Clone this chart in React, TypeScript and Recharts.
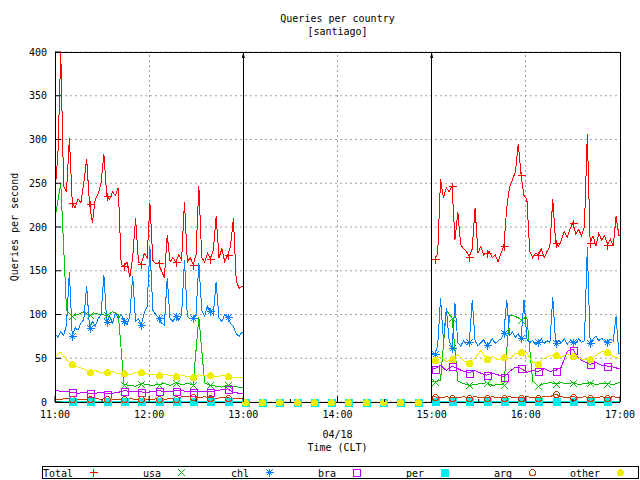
import React from "react";
import { LineChart, Line, XAxis, YAxis, CartesianGrid, ReferenceLine } from "recharts";

// x = minutes after 11:00 (CLT). Collector was down 13:00-15:00.
// Total and chl are read at twice the resolution of the other series.
const COARSE_STEP = 11 / 3; // a marker every 3rd sample
const FINE_STEP = 11 / 6; // a marker every 6th sample
const OUTAGE_START = 120;
const OUTAGE_END = 240;
const SECOND_RUN_START = 242; // first sample after the outage
const END = 360;

const hourLabels = ["11:00", "12:00", "13:00", "14:00", "15:00", "16:00", "17:00"];
const halfHourTicks = [0, 30, 60, 90, 120, 150, 180, 210, 240, 270, 300, 330, 360];
const yTicks = [0, 50, 100, 150, 200, 250, 300, 350, 400];
const gridMinutes = [60, 120, 180, 240, 300];
const outageEdges = [OUTAGE_START, OUTAGE_END];

// 11:00 - 13:00
const totalA = [240, 282, 400, 247, 240, 302, 228, 222, 232, 228, 250, 278, 226, 205, 232, 238, 250, 283, 235, 232, 240, 236, 245, 157, 155, 160, 143, 165, 210, 160, 158, 170, 165, 227, 162, 158, 159, 150, 142, 191, 160, 165, 160, 168, 162, 229, 160, 165, 157, 168, 247, 165, 160, 170, 164, 173, 212, 165, 175, 160, 168, 178, 210, 138, 130, 132];
const chlA = [78, 74, 80, 76, 88, 149, 75, 85, 82, 90, 94, 133, 85, 92, 87, 95, 100, 145, 91, 98, 90, 102, 95, 100, 93, 88, 98, 144, 92, 95, 88, 102, 109, 177, 105, 100, 96, 90, 88, 142, 95, 92, 98, 93, 100, 162, 98, 95, 96, 100, 159, 105, 98, 110, 104, 100, 137, 96, 92, 100, 97, 90, 86, 78, 75, 80];
const usaA = [210, 250, 105, 98, 100, 103, 99, 101, 100, 99, 103, 100, 20, 19, 18, 21, 20, 19, 20, 21, 19, 22, 20, 21, 20, 97, 22, 19, 18, 17, 19, 18, 17];
const braA = [14, 12, 12, 11, 10, 11, 10, 10, 11, 9.5, 10, 11, 13, 12, 12, 11.5, 11, 12, 13, 12, 12, 13, 13, 12, 11.5, 12, 12, 12, 13, 14, 15, 11, 10];
const perA = [1, 1, 1, 1, 1, 1, 1, 1, 1, 1, 1, 1, 1, 1, 1, 1, 1, 1, 1, 1, 1, 1, 1, 1, 1, 1, 1, 1, 1, 1, 1, 1, 1];
const argA = [3, 3, 4, 3, 3, 3, 3, 4, 3, 4, 3, 3, 3, 4, 3, 4, 3, 3, 4, 3, 4, 3, 6, 6, 6, 5, 6, 5, 4, 5, 5, 4, 4];
const otherA = [52, 57, 48, 43, 40, 38, 34, 36, 33, 34, 35, 32, 33, 31, 34, 34, 32, 31, 31, 32, 30, 30, 31, 29, 29, 31, 30, 31, 29, 30, 30, 28, 28];

// 15:00 - 17:00
const totalB = [163, 170, 255, 233, 245, 240, 247, 185, 217, 180, 175, 172, 166, 175, 222, 170, 178, 168, 170, 172, 165, 168, 160, 170, 178, 222, 246, 254, 263, 295, 259, 236, 232, 172, 165, 170, 168, 175, 165, 172, 178, 232, 182, 178, 185, 195, 188, 198, 205, 192, 197, 190, 200, 306, 182, 190, 178, 193, 185, 190, 180, 186, 178, 212, 190];
const chlB = [55, 64, 119, 70, 107, 70, 62, 113, 68, 64, 70, 66, 68, 117, 70, 64, 68, 71, 65, 68, 72, 67, 70, 72, 79, 117, 76, 80, 74, 78, 73, 117, 72, 68, 70, 66, 69, 72, 67, 70, 68, 120, 67, 70, 68, 72, 66, 70, 69, 67, 72, 68, 70, 177, 67, 72, 75, 70, 73, 69, 68, 72, 70, 98, 55];
const usaB = [23, 25, 105, 96, 24, 21, 19, 20, 21, 22, 19, 20, 20, 99, 98, 94, 97, 24, 18, 21, 22, 21, 22, 21, 22, 20, 21, 22, 20, 21, 21, 20, 22];
const braB = [38, 42, 36, 41, 38, 35, 33.5, 36, 33, 30.5, 33, 31, 29, 35, 40, 38.5, 34, 36, 35, 38, 35, 36, 40, 58, 60, 50, 46, 43, 45, 42, 41, 40, 38];
const perB = [1, 1, 1, 1, 1, 1, 1, 1, 1, 1, 1, 1, 1, 1, 1, 1, 1, 1, 1, 1, 1, 1, 1, 1, 1, 1, 1, 1, 1, 1, 1, 1, 1];
const argB = [6, 5, 6, 5, 5, 6, 5, 6, 5, 5, 6, 5, 5, 6, 5, 5, 6, 5, 5, 6, 6, 9, 6, 5, 6, 5, 6, 5, 5, 6, 5, 6, 5];
const otherB = [48, 52, 46, 49.5, 54, 47, 45, 50, 59, 49, 52, 48, 52, 50, 55, 57, 56, 45, 44, 50, 53, 54, 51, 55, 53, 50, 48, 49.5, 53, 58, 57.5, 52, 50];

type Shape = "plus" | "cross" | "star" | "box" | "boxFilled" | "circle" | "circleFilled";
type Series = { key: string; name: string; color: string; shape: Shape; a: number[]; b: number[]; step: number; every: number };

const series: Series[] = [
  { key: "total", name: "Total", color: "#ff0000", shape: "plus", a: totalA, b: totalB, step: FINE_STEP, every: 6 },
  { key: "usa", name: "usa", color: "#00c000", shape: "cross", a: usaA, b: usaB, step: COARSE_STEP, every: 3 },
  { key: "chl", name: "chl", color: "#0080ff", shape: "star", a: chlA, b: chlB, step: FINE_STEP, every: 6 },
  { key: "bra", name: "bra", color: "#c000ff", shape: "box", a: braA, b: braB, step: COARSE_STEP, every: 3 },
  { key: "per", name: "per", color: "#00eeee", shape: "boxFilled", a: perA, b: perB, step: COARSE_STEP, every: 3 },
  { key: "arg", name: "arg", color: "#c04000", shape: "circle", a: argA, b: argB, step: COARSE_STEP, every: 3 },
  { key: "other", name: "other", color: "#eeee00", shape: "circleFilled", a: otherA, b: otherB, step: COARSE_STEP, every: 3 },
];

type Pt = { t: number; v: number; mark: boolean };

// samples of both runs, zeros (still marked) through the outage, vertical edges at 13:00/15:00/17:00
function buildRows(s: Series): Pt[] {
  const pts: Pt[] = [];
  const add = (k: number, v: number) => pts.push({ t: k * s.step, v, mark: k > 0 && k % s.every === 0 });
  s.a.forEach((v, k) => add(k, v));
  pts.push({ t: OUTAGE_START, v: s.a[s.a.length - 1], mark: false }, { t: OUTAGE_START, v: 0, mark: false });
  const bStart = Math.round(SECOND_RUN_START / s.step);
  for (let k = s.a.length; k < bStart; k++) add(k, 0);
  pts.push({ t: OUTAGE_END, v: 0, mark: false }, { t: OUTAGE_END, v: s.b[0], mark: false });
  s.b.forEach((v, j) => add(bStart + j, v));
  pts.push({ t: END, v: s.b[s.b.length - 1], mark: false }, { t: END, v: 0, mark: false });
  return pts;
}

const FONT = "'DejaVu Sans Mono', monospace";

function Marker({ shape, color, x, y }: { shape: Shape; color: string; x: number; y: number }) {
  const px = Math.round(x) + 0.5;
  const py = Math.round(y) + 0.5;
  const crisp = { shapeRendering: "crispEdges" as const };
  switch (shape) {
    case "plus":
      return <path d={`M${px - 4},${py}H${px + 4}M${px},${py - 4}V${py + 4}`} stroke={color} fill="none" {...crisp} />;
    case "cross":
      return <path d={`M${px - 3.5},${py - 3.5}L${px + 3.5},${py + 3.5}M${px - 3.5},${py + 3.5}L${px + 3.5},${py - 3.5}`} stroke={color} fill="none" {...crisp} />;
    case "star":
      return (
        <path
          d={`M${px - 4},${py}H${px + 4}M${px},${py - 4}V${py + 4}M${px - 3},${py - 3}L${px + 3},${py + 3}M${px - 3},${py + 3}L${px + 3},${py - 3}`}
          stroke={color}
          fill="none"
          {...crisp}
        />
      );
    case "box":
      return <rect x={px - 3.5} y={py - 3.5} width={7} height={7} stroke={color} fill="none" {...crisp} />;
    case "boxFilled":
      return <rect x={px - 4} y={py - 4} width={8} height={8} fill={color} {...crisp} />;
    case "circle":
      return <circle cx={px} cy={py} r={3} stroke={color} fill="none" {...crisp} />;
    default:
      return <circle cx={px} cy={py} r={3.5} fill={color} {...crisp} />;
  }
}

const dotFor = (s: Series) => (props: any) => {
  const { cx, cy, payload, index } = props;
  if (!payload || !payload.mark || cx == null || cy == null) return <g key={`${s.key}-${index}`} />;
  return (
    <g key={`${s.key}-${index}`}>
      <Marker shape={s.shape} color={s.color} x={cx} y={cy} />
    </g>
  );
};

const BottomTick = ({ x, y, payload }: any) => {
  const major = payload.value % 60 === 0;
  return (
    <g>
      <line x1={x} x2={x} y1={y} y2={y - (major ? 6 : 3)} stroke="#000" />
      {major && (
        <text x={x} y={y + 12} textAnchor="middle" dominantBaseline="central" fontFamily={FONT} fontSize={10} fill="#000">
          {hourLabels[payload.value / 60]}
        </text>
      )}
    </g>
  );
};

const TopTick = ({ x, y, payload }: any) => {
  const major = payload.value % 60 === 0;
  return <line x1={x} x2={x} y1={y} y2={y + (major ? 6 : 3)} stroke="#000" />;
};

const LeftTick = ({ x, y, payload }: any) => (
  <g>
    <line x1={x} x2={x + 6} y1={y} y2={y} stroke="#000" />
    <text x={x - 8} y={y} textAnchor="end" dominantBaseline="central" fontFamily={FONT} fontSize={10} fill="#000">
      {payload.value}
    </text>
  </g>
);

const RightTick = ({ x, y }: any) => <line x1={x} x2={x - 6} y1={y} y2={y} stroke="#000" />;

const OutageArrow = (props: any) => {
  const { x1, y1, x2, y2 } = props;
  const top = Math.min(y1, y2);
  const bottom = Math.max(y1, y2);
  return (
    <g>
      <line x1={x1} x2={x2} y1={bottom} y2={top} stroke="#000" />
      <path d={`M${x1},${top}L${x1 - 1.5},${top + 6}L${x1 + 1.5},${top + 6}Z`} fill="#000" />
    </g>
  );
};

export default function App() {
  return (
    <div style={{ position: "absolute", left: 0, top: 0, width: 640, height: 480, background: "#fff" }}>
      <style>{`.recharts-line-curve, .recharts-cartesian-axis line, .recharts-reference-line line { shape-rendering: crispEdges; }`}</style>
      <LineChart width={640} height={480} margin={{ top: 51, right: 19, bottom: 77, left: 54 }}>
        <CartesianGrid vertical={false} stroke="#a0a0a0" strokeDasharray="2 3" />
        <XAxis
          dataKey="t"
          type="number"
          domain={[0, END]}
          ticks={halfHourTicks}
          interval={0}
          height={1}
          tickSize={0}
          tickMargin={0}
          tickLine={false}
          axisLine={{ stroke: "#000" }}
          tick={<BottomTick />}
        />
        <XAxis
          xAxisId="top"
          orientation="top"
          type="number"
          domain={[0, END]}
          ticks={halfHourTicks}
          interval={0}
          height={1}
          tickSize={0}
          tickMargin={0}
          tickLine={false}
          axisLine={{ stroke: "#000" }}
          tick={<TopTick />}
        />
        <YAxis
          type="number"
          domain={[0, 400]}
          ticks={yTicks}
          interval={0}
          width={1}
          tickSize={0}
          tickMargin={0}
          tickLine={false}
          axisLine={{ stroke: "#000" }}
          tick={<LeftTick />}
        />
        <YAxis
          yAxisId="right"
          orientation="right"
          type="number"
          domain={[0, 400]}
          ticks={yTicks}
          interval={0}
          width={1}
          tickSize={0}
          tickMargin={0}
          tickLine={false}
          axisLine={{ stroke: "#000" }}
          tick={<RightTick />}
        />
        {gridMinutes.map((m) => (
          <ReferenceLine key={`g${m}`} x={m} stroke="#a0a0a0" strokeDasharray="2 3" />
        ))}
        {series.map((s) => (
          <Line
            key={s.key}
            data={buildRows(s)}
            dataKey="v"
            name={s.name}
            type="linear"
            stroke={s.color}
            strokeWidth={1}
            dot={dotFor(s)}
            activeDot={false}
            isAnimationActive={false}
          />
        ))}
        {outageEdges.map((m) => (
          <ReferenceLine key={`a${m}`} x={m} stroke="#000" shape={<OutageArrow />} />
        ))}
      </LineChart>
      <svg
        width={640}
        height={480}
        style={{ position: "absolute", left: 0, top: 0, pointerEvents: "none" }}
        fontFamily={FONT}
        fontSize={10}
      >
        <text x={337.5} y={18} textAnchor="middle" dominantBaseline="central">Queries per country</text>
        <text x={337.5} y={31} textAnchor="middle" dominantBaseline="central">[santiago]</text>
        <text x={14} y={227} textAnchor="middle" dominantBaseline="central" transform="rotate(-90 14 227)">
          Queries per second
        </text>
        <text x={337.5} y={434} textAnchor="middle" dominantBaseline="central">04/18</text>
        <text x={337.5} y={447} textAnchor="middle" dominantBaseline="central">Time (CLT)</text>
        <rect x={42.5} y={466.5} width={596} height={12} fill="none" stroke="#000" shapeRendering="crispEdges" />
        {series.map((s, k) => {
          const mx = Math.round(93 + k * 87.8);
          return (
            <g key={s.key}>
              <text x={mx - 20} y={473} textAnchor="end" dominantBaseline="central">{s.name}</text>
              <Marker shape={s.shape} color={s.color} x={mx} y={472} />
            </g>
          );
        })}
      </svg>
    </div>
  );
}
